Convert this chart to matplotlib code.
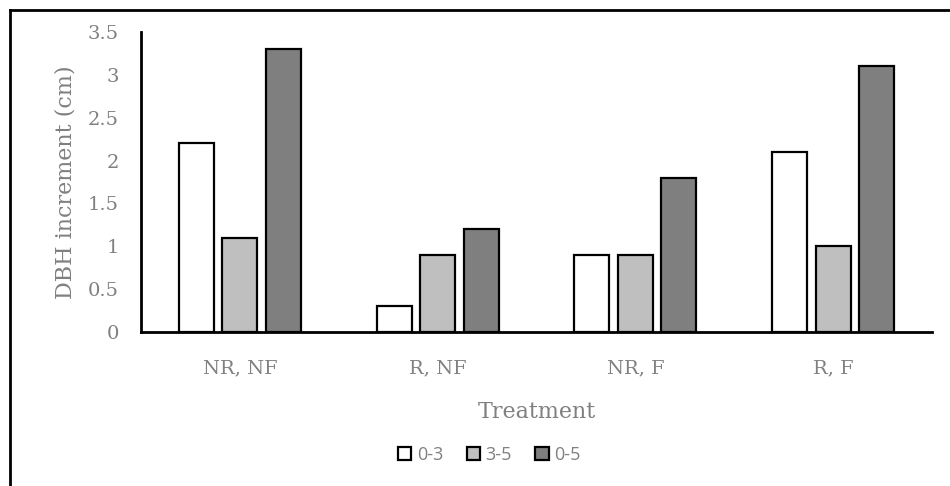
"""DBH increment by treatment, grouped bar chart (Excel style)."""

import matplotlib

matplotlib.use("Agg")
import matplotlib.pyplot as plt
import numpy as np
from matplotlib.lines import Line2D

treatments = ["NR, NF", "R, NF", "NR, F", "R, F"]
series_names = ["0-3", "3-5", "0-5"]
inc_0_3 = [2.2, 0.3, 0.9, 2.1]
inc_3_5 = [1.1, 0.9, 0.9, 1.0]
inc_0_5 = [3.3, 1.2, 1.8, 3.1]
y_ticks = [0, 0.5, 1, 1.5, 2, 2.5, 3, 3.5]

colors = ["#ffffff", "#bfbfbf", "#7f7f7f"]
text_grey = "#808080"
serif = ["DejaVu Serif"]

fig = plt.figure(figsize=(9.5, 4.86), dpi=100)
ax = fig.add_axes([0.1484, 0.3169, 0.8326, 0.6173])

x = np.arange(len(treatments))
width = 0.177
step = 0.22
for i, (vals, name) in enumerate(zip([inc_0_3, inc_3_5, inc_0_5], series_names)):
    ax.bar(x + (i - 1) * step, vals, width, color=colors[i], edgecolor="black",
           linewidth=1.6, label=name, zorder=2)

ax.set_xlim(-0.5, len(treatments) - 0.5)
ax.set_ylim(0, 3.5)
ax.set_yticks(y_ticks)
ax.set_yticklabels([f"{t:g}" for t in y_ticks], family=serif, fontsize=14, color=text_grey)
ax.set_xticks(x)
ax.set_xticklabels(treatments, family=serif, fontsize=14, color=text_grey)
ax.tick_params(axis="both", length=0)
ax.tick_params(axis="y", pad=16)
ax.tick_params(axis="x", pad=20)
for side in ["top", "right"]:
    ax.spines[side].set_visible(False)
for side in ["left", "bottom"]:
    ax.spines[side].set_linewidth(2)
    ax.spines[side].set_color("black")

ax.set_ylabel("DBH increment (cm)", family=serif, fontsize=16, color=text_grey, labelpad=8)
ax.set_xlabel("Treatment", family=serif, fontsize=16, color=text_grey, labelpad=17)

leg = fig.legend(loc="center", bbox_to_anchor=(0.515, 0.064), ncol=3, frameon=False,
                 prop={"family": "Open Sans", "size": 13}, handlelength=0.75,
                 handleheight=0.75, handletextpad=0.3, columnspacing=1.3)
for t in leg.get_texts():
    t.set_color(text_grey)

# outer chart frame (only top and left edges show)
fig.add_artist(Line2D([0.011, 1.0], [0.979, 0.979], color="black", linewidth=2,
                      transform=fig.transFigure))
fig.add_artist(Line2D([0.011, 0.011], [0.0, 0.979], color="black", linewidth=2,
                      transform=fig.transFigure))

fig.savefig("out.png", dpi=100)
